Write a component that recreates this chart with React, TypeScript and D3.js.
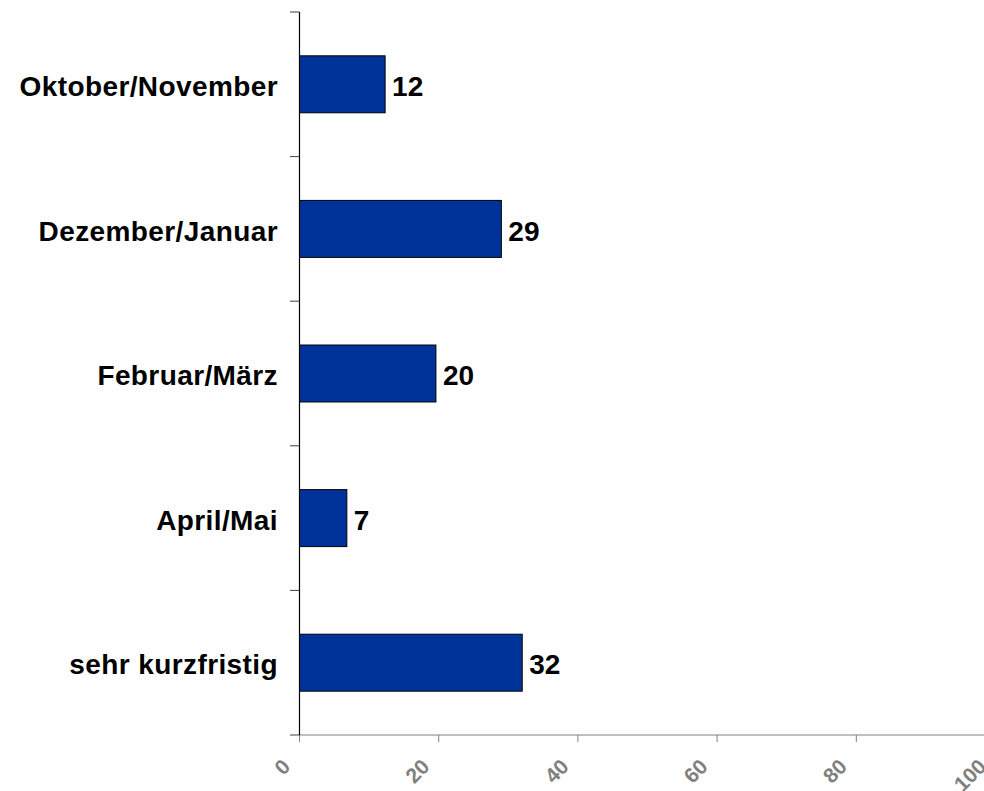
import React from "react";
import * as d3 from "d3";

const categories: string[] = ["Oktober/November", "Dezember/Januar", "Februar/März", "April/Mai", "sehr kurzfristig"];
const values: number[] = [12.3, 29, 19.6, 6.8, 32];
const valueLabels: string[] = ["12", "29", "20", "7", "32"];
const xTicks: number[] = [0, 20, 40, 60, 80, 100];

const W = 984;
const H = 791;
const left = 299.5;
const right = 995.5;
const top = 12;
const bottom = 735;

export default function App() {
  const x = d3.scaleLinear().domain([0, 100]).range([left, right]);
  const y = d3.scaleBand<string>().domain(categories).range([top, bottom]).paddingInner(0.606).paddingOuter(0.303);
  const step = y.step();
  const boundaries = categories.map((c) => (y(c) as number) - (step * 0.606) / 2).concat([bottom]);
  const font = "'Liberation Sans', Arial, sans-serif";

  return (
    <svg width={W} height={H} style={{ position: "absolute", left: 0, top: 0, background: "#fff" }}>
      {categories.map((c, i) => (
        <g key={c}>
          <rect
            x={x(0)}
            y={y(c)}
            width={x(values[i]) - x(0)}
            height={y.bandwidth()}
            fill="#003399"
            stroke="#000"
            strokeWidth={1}
          />
          <text
            x={x(values[i]) + 7}
            y={(y(c) as number) + y.bandwidth() / 2}
            dy="0.42em"
            fontFamily={font}
            fontWeight="bold"
            fontSize={28}
            fill="#000"
          >
            {valueLabels[i]}
          </text>
          <text
            x={278}
            y={(y(c) as number) + y.bandwidth() / 2}
            dy="0.42em"
            textAnchor="end"
            fontFamily={font}
            fontWeight="bold"
            fontSize={28}
            letterSpacing={0.4}
            fill="#000"
          >
            {c}
          </text>
        </g>
      ))}
      <line x1={left} x2={W} y1={bottom} y2={bottom} stroke="#808080" strokeWidth={1} />
      {xTicks.map((t) => (
        <g key={t}>
          <line x1={x(t)} x2={x(t)} y1={bottom} y2={bottom + 7} stroke="#808080" strokeWidth={1} />
          <text
            transform={`translate(${x(t) - 8},${bottom + 33}) rotate(-45)`}
            textAnchor="end"
            fontFamily={font}
            fontWeight="bold"
            fontSize={21}
            fill="#808080"
          >
            {t}
          </text>
        </g>
      ))}
      {boundaries.map((b, i) => (
        <line key={i} x1={290} x2={left} y1={b} y2={b} stroke="#404040" strokeWidth={1} />
      ))}
      <line x1={left} x2={left} y1={top} y2={bottom} stroke="#000" strokeWidth={1.2} />
    </svg>
  );
}
